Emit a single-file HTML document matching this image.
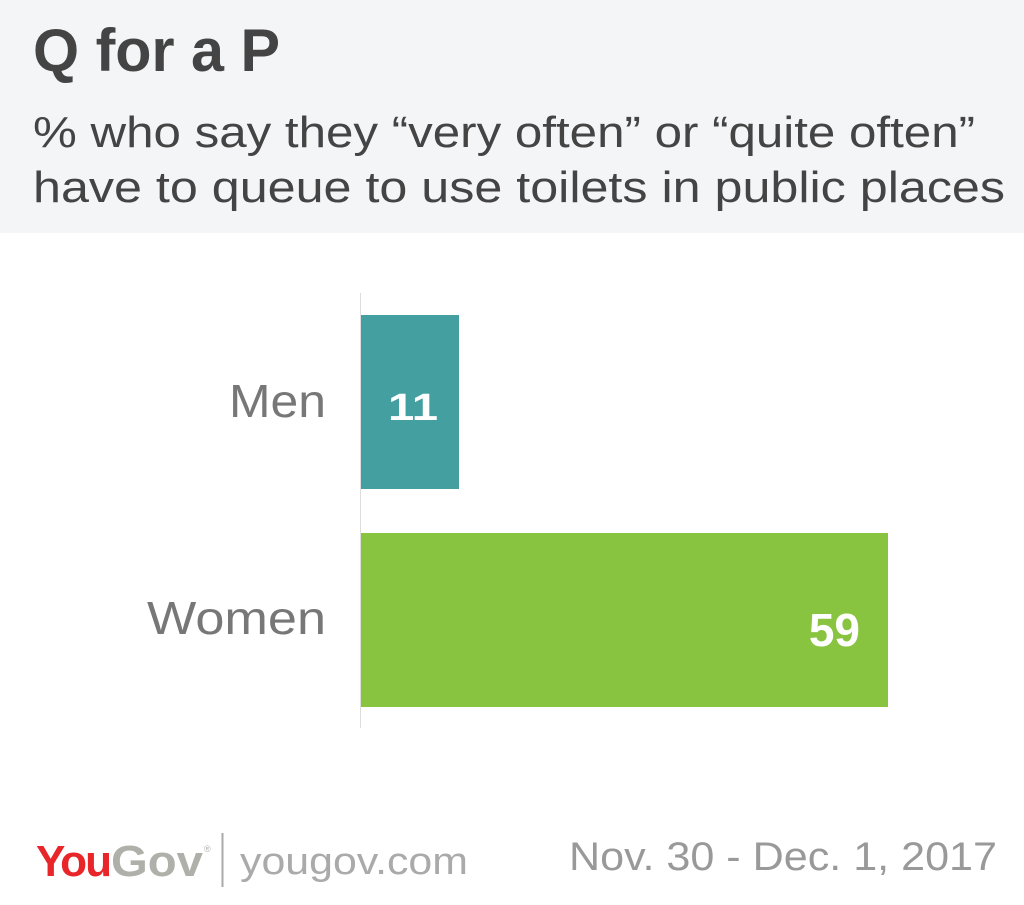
<!DOCTYPE html>
<html><head><meta charset="utf-8"><style>
html,body{margin:0;padding:0;background:#fff;}
svg{display:block;font-family:"Liberation Sans",sans-serif;}
</style></head><body>
<svg width="1024" height="905" viewBox="0 0 1024 905">
<rect x="0" y="0" width="1024" height="233" fill="#f4f5f7"/>
<text x="33" y="71" font-size="60" font-weight="bold" fill="#444" textLength="247" lengthAdjust="spacingAndGlyphs">Q for a P</text>
<text x="33" y="147" font-size="44" fill="#444" textLength="942" lengthAdjust="spacingAndGlyphs">% who say they “very often” or “quite often”</text>
<text x="33" y="202" font-size="44" fill="#444" textLength="972" lengthAdjust="spacingAndGlyphs">have to queue to use toilets in public places</text>
<line x1="360.5" y1="293" x2="360.5" y2="728" stroke="#ddd" stroke-width="1"/>
<rect x="361" y="315" width="98" height="174" fill="#449fa0"/>
<rect x="361" y="533" width="527" height="174" fill="#88c440"/>
<text x="229" y="417" font-size="46" fill="#777" textLength="97" lengthAdjust="spacingAndGlyphs">Men</text>
<text x="147" y="634" font-size="46" fill="#777" textLength="179" lengthAdjust="spacingAndGlyphs">Women</text>
<text x="388" y="420" font-size="38" font-weight="bold" fill="#fff" textLength="50" lengthAdjust="spacingAndGlyphs">11</text>
<text x="860" y="646" font-size="46" font-weight="bold" fill="#fff" text-anchor="end">59</text>
<text x="36" y="876" font-size="44" font-weight="bold" fill="#e8262a" textLength="74" lengthAdjust="spacingAndGlyphs" letter-spacing="-2">You</text>
<text x="111" y="876" font-size="44" font-weight="bold" fill="#b0b0ab" textLength="92" lengthAdjust="spacingAndGlyphs">Gov</text>
<text x="204" y="852" font-size="9" fill="#b0b0ab">®</text>
<line x1="222.5" y1="833" x2="222.5" y2="887" stroke="#aaa" stroke-width="2"/>
<text x="240" y="874" font-size="38" fill="#aaa" textLength="228" lengthAdjust="spacingAndGlyphs">yougov.com</text>
<text x="997" y="870" font-size="40" fill="#999" text-anchor="end" textLength="428" lengthAdjust="spacingAndGlyphs">Nov. 30 - Dec. 1, 2017</text>
</svg>
</body></html>
